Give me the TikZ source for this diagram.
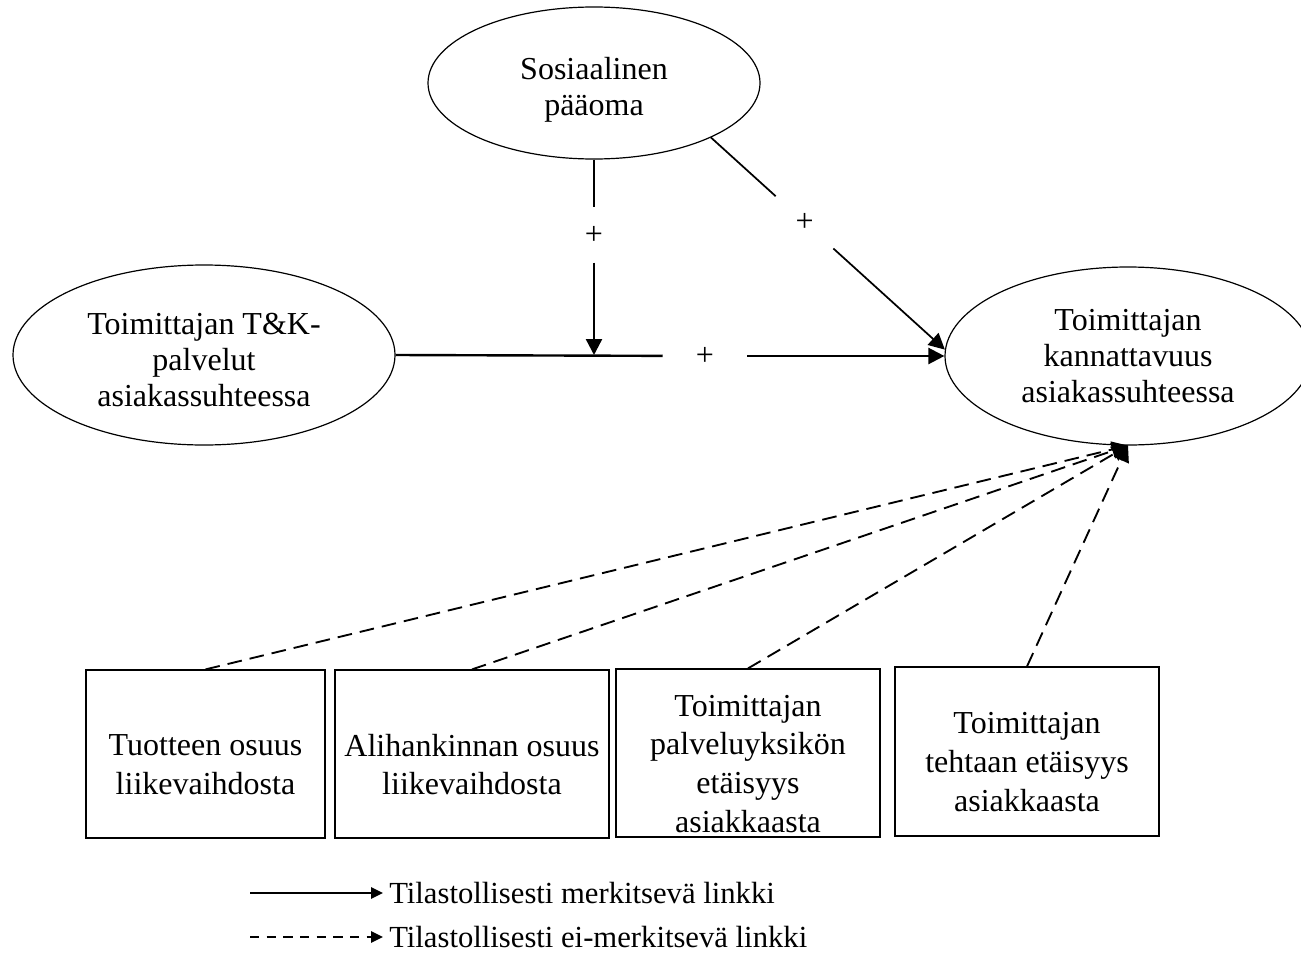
\documentclass[tikz,border=0pt]{standalone}
\usepackage{fontspec}
\setmainfont{Liberation Serif}
\usetikzlibrary{shapes.geometric,arrows.meta}
\tikzset{
  latent/.style={ellipse, draw, line width=0.9pt, inner sep=0pt},
  observed/.style={rectangle, draw, line width=0.9pt, inner sep=0pt},
  txt/.style={align=center, inner sep=0pt, font=\fontsize{24}{27}\selectfont},
  boxtxt/.style={txt, yshift=-8pt, font=\fontsize{24}{29}\selectfont},
  plusgap/.style={circle, inner sep=0pt, font=\fontsize{24}{27}\selectfont},
  legendtext/.style={anchor=west, inner xsep=4.5pt, inner ysep=0pt, font=\fontsize{23}{27}\selectfont},
  link/.style={line width=1.8pt},
  sig/.style={line width=1.8pt, -{Triangle[length=12pt,width=12pt]}},
  nonsig/.style={line width=1.4pt, dash pattern=on 11pt off 6pt, -{Triangle[length=12pt,width=12pt]}},
}

\begin{document}
\begin{tikzpicture}[x=0.75pt,y=-0.75pt]
        \useasboundingbox (0,0) rectangle (1301,974);

        % Latent.
        \node[latent, minimum width=249pt, minimum height=114pt,
              label={[txt, yshift=-5pt]center:Sosiaalinen\\pääoma}] (soc) at (594,83) {};
        \node[latent, minimum width=286.5pt, minimum height=135pt,
              label={[txt, yshift=-4pt]center:Toimittajan T\&K-\\palvelut\\asiakassuhteessa}] (tk) at (204,355) {};
        \node[latent, minimum width=274.5pt, minimum height=133.5pt,
              label={[txt]center:Toimittajan\\kannattavuus\\asiakassuhteessa}] (kan) at (1128,356) {};

        % Observed.
        \node[observed, minimum width=179.25pt, minimum height=126pt,
              label={[boxtxt]center:Tuotteen osuus\\liikevaihdosta}] (tuote) at (205.5,754) {};
        \node[observed, minimum width=205.5pt, minimum height=126pt,
              label={[boxtxt]center:Alihankinnan osuus\\liikevaihdosta}] (aliha) at (472,754) {};
        \node[observed, minimum width=198pt, minimum height=126pt,
              label={[boxtxt]center:Toimittajan\\palveluyksikön\\etäisyys\\asiakkaasta}] (palve) at (748,753) {};
        \node[observed, minimum width=198pt, minimum height=126.75pt,
              label={[boxtxt]center:Toimittajan\\tehtaan etäisyys\\asiakkaasta}] (tehdas) at (1027,751.5) {};

        % Signs.
        \node[plusgap, minimum size=41pt] (pV) at (594,235) {+};
        \node[plusgap, minimum size=63pt] (pH) at (705,356) {+};
        \path (soc.-25) -- node[plusgap, minimum size=58pt, pos=0.4] (pD) {+} (kan.178);
        \coordinate (jn) at (soc.south |- tk.east);

        % Significant.
        \draw[link] (soc.south) -- (pV);
        \draw[sig] (pV) -- (jn);
        \draw[link] (tk.east) -- (pH);
        \draw[sig] (pH) -- (kan.west);
        \draw[link, line width=1.3pt] (soc.-25) -- (pD);
        \draw[sig, line width=1.3pt] (pD) -- (kan.178);

        % Not significant.
        \foreach \b in {tuote,aliha,palve,tehdas} {\draw[nonsig] (\b.north) -- (kan.south);}

        % Legend.
        \coordinate (legA) at (250,893);
        \coordinate (legB) at (250,937);
        \node[legendtext] (legAt) at (383,893) {Tilastollisesti merkitsevä linkki};
        \node[legendtext] (legBt) at (383,937) {Tilastollisesti ei-merkitsevä linkki};
        \draw[sig, line width=1.5pt, -{Triangle[length=9pt,width=8.5pt]}] (legA) -- (legAt.west);
        \draw[sig, line width=1.5pt, dash pattern=on 7pt off 5.5pt, -{Triangle[length=9pt,width=8.5pt]}] (legB) -- (legBt.west);
    \end{tikzpicture}
\end{document}
